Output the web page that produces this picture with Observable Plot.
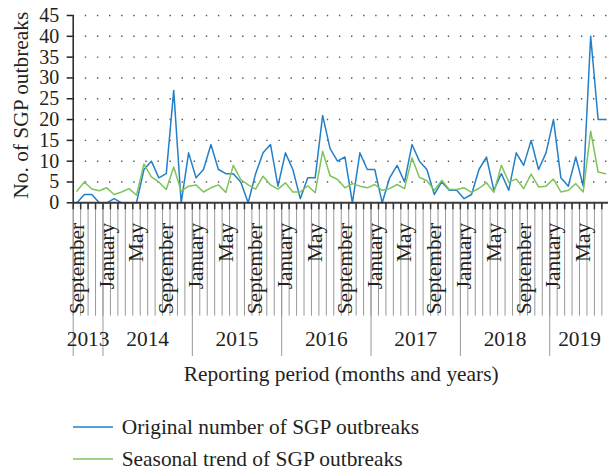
<!DOCTYPE html>
<html><head><meta charset="utf-8">
<script src="https://cdn.jsdelivr.net/npm/d3@7"></script>
<script src="https://cdn.jsdelivr.net/npm/@observablehq/plot@0.6"></script>
<style>
html,body{margin:0;padding:0;background:#fff;overflow:hidden;width:608px;height:469px;position:relative}
#chart svg{display:block}
.item{position:absolute;left:72.7px;display:flex;align-items:center;height:32px;font-family:"Liberation Serif",serif;font-size:21.4px;color:#231f20;white-space:nowrap}
.item svg{margin-right:9px;display:block}
</style></head><body>
<div id="chart"></div>
<div id="legend"></div>
<script>
const startYear = 2013;
const startMonth = 8; // September (0-based)
const monthNames = ["January","February","March","April","May","June","July","August","September","October","November","December"];
const labeledMonths = ["September","January","May"];
const years = [2013, 2014, 2015, 2016, 2017, 2018, 2019];
const yTicks = [0, 5, 10, 15, 20, 25, 30, 35, 40, 45];
const seriesNames = ["Original number of SGP outbreaks", "Seasonal trend of SGP outbreaks"];
const seriesColors = ["#2280c8", "#7fc35b"];
const original = [0,2,2,0,0,1,0,0,0,8, 10,6,7,27,0,12,6,8,14,8, 7,7,5,0,7,12,14,4,12,8, 1,6,6,21,13,10,11,0,12,8, 8,0,6,9,5,14,10,8,2,5, 3,3,1,2,8,11,3,7,3,12, 9,15,8,12,20,6,4,11,4,40, 20,20];
const seasonal = [2.8,5,3.3,2.9,3.6,2,2.6,3.4,1.8,9.3, 6.2,5,3.2,8.6,2.8,4,4.3,2.6,3.6,4.3, 2.5,9,5.6,4.3,3.3,6.4,4.3,3.3,4.8,2.6, 2.6,4.1,2.4,12.4,6.5,5.6,3.6,4.6,4,3.6, 4.4,3,3.4,4.4,3.4,10.8,6.1,5.3,3,5.4, 3.2,3.2,3.6,2.5,3.5,4.8,2.5,9,5,5.7, 3.4,6.9,3.8,4,5.7,2.6,3,4.6,2.6,17.2, 7.4,7];
const xTitle = "Reporting period (months and years)";
const yTitle = "No. of SGP outbreaks";

const categories = original.map((_, i) => ({
  i,
  month: monthNames[(startMonth + i) % 12],
  year: startYear + Math.floor((startMonth + i) / 12)
}));
const rows = categories.flatMap(c => [
  {x: c.i + 0.5, v: original[c.i], s: seriesNames[0]},
  {x: c.i + 0.5, v: seasonal[c.i], s: seriesNames[1]}
]);
const boundaries = d3.range(categories.length + 1);
const yearSpans = years.map(y => {
  const idx = categories.filter(c => c.year === y).map(c => c.i);
  return {year: String(y), start: d3.min(idx), end: d3.max(idx) + 1};
});
const yearBoundaries = yearSpans.map(d => d.start);
const monthLabels = categories.filter(c => labeledMonths.includes(c.month));

const H = 400;
const FS = 21.4;
const font = "'Liberation Serif', 'Times New Roman', serif";
const chart = Plot.plot({
  width: 608, height: H,
  marginLeft: 72.7, marginRight: -0.8, marginTop: 15, marginBottom: H - 202.3,
  style: {fontFamily: font, fontSize: FS + "px", color: "#231f20", background: "white"},
  x: {domain: [0, categories.length], axis: null},
  y: {domain: [0, 45], axis: null},
  color: {domain: seriesNames, range: seriesColors},
  marks: [
    Plot.ruleY(yTicks.slice(1), {stroke: "#555", strokeWidth: 1.4, strokeDasharray: "1.4,10.7"}),
    Plot.ruleX(boundaries, {stroke: "#999", strokeWidth: 1, insetTop: 187.3, insetBottom: -113.4}),
    Plot.ruleX(yearBoundaries, {stroke: "#999", strokeWidth: 1, insetTop: 187.3, insetBottom: -153.7}),
    Plot.ruleX(boundaries, {stroke: "#333", strokeWidth: 1.5, insetTop: 187.3, insetBottom: -7}),
    Plot.line(rows, {x: "x", y: "v", z: "s", stroke: "s", strokeWidth: 1.5}),
    Plot.ruleY([0], {stroke: "#3a3a3a", strokeWidth: 2}),
    Plot.ruleX([0], {y1: 0, y2: 45, stroke: "#222", strokeWidth: 1.5}),
    Plot.axisY({ticks: yTicks, tickSize: 6, tickPadding: 8, label: null, fontSize: 20, stroke: "#222", strokeWidth: 1.5}),
    Plot.text(monthLabels, {x: d => d.i + 0.5, text: "month", frameAnchor: "bottom", dy: 20, rotate: -90, textAnchor: "end", lineAnchor: "middle", fontSize: FS}),
    Plot.text(yearSpans, {x: d => (d.start + d.end) / 2, text: "year", frameAnchor: "bottom", dy: 143, fontSize: FS}),
    Plot.text([xTitle], {frameAnchor: "bottom", dy: 178.5, fontSize: FS}),
    Plot.text([yTitle], {frameAnchor: "left", textAnchor: "middle", lineAnchor: "middle", dx: -51.7, dy: -4, rotate: -90, fontSize: FS})
  ]
});
document.getElementById("chart").append(chart);

const legend = document.getElementById("legend");
seriesNames.forEach((name, k) => {
  const item = document.createElement("div");
  item.className = "item";
  item.style.top = (411 + 32 * k) + "px";
  item.innerHTML = `<svg width="40" height="4"><line x1="0" x2="40" y1="2" y2="2" stroke="${seriesColors[k]}" stroke-width="1.5"/></svg><span>${name}</span>`;
  legend.append(item);
});
</script>
</body></html>
